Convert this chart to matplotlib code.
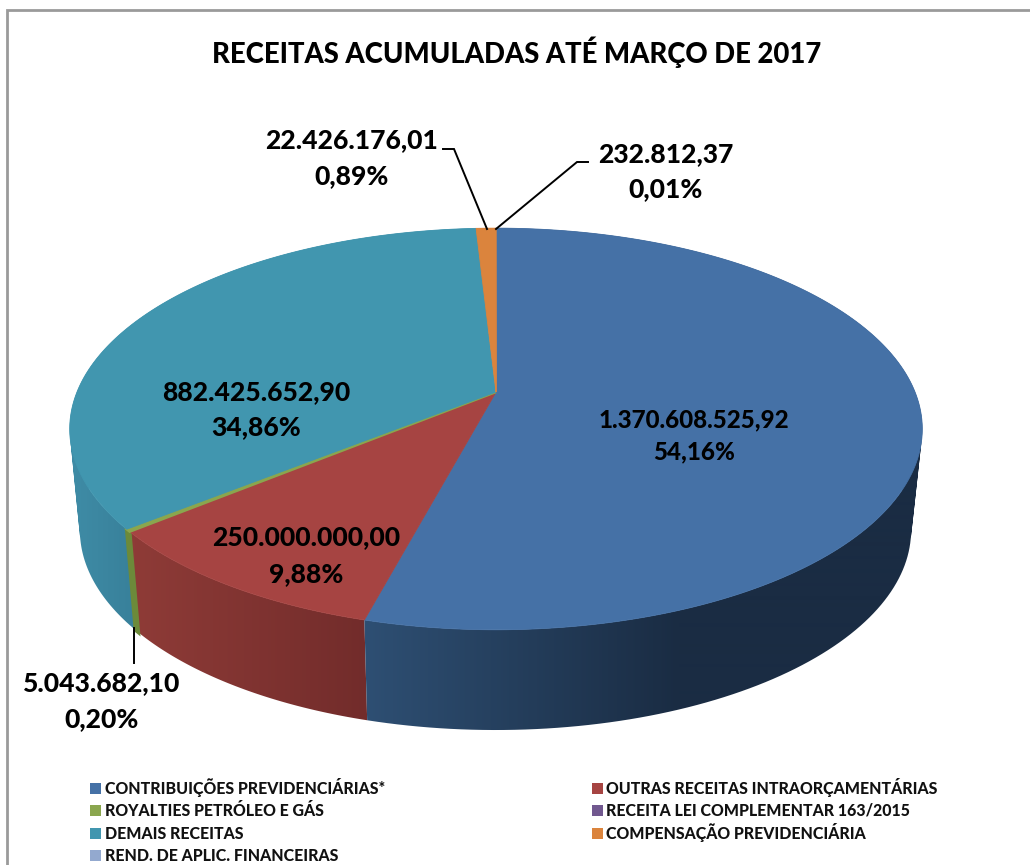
import numpy as np
import matplotlib
matplotlib.use("Agg")
import matplotlib.pyplot as plt
from matplotlib.patches import Polygon, Rectangle
from matplotlib.path import Path
from matplotlib.colors import LinearSegmentedColormap

title = "RECEITAS ACUMULADAS ATÉ MARÇO DE 2017"
categories = ["CONTRIBUIÇÕES PREVIDENCIÁRIAS*", "OUTRAS RECEITAS INTRAORÇAMENTÁRIAS",
              "ROYALTIES PETRÓLEO E GÁS", "RECEITA LEI COMPLEMENTAR 163/2015",
              "DEMAIS RECEITAS", "COMPENSAÇÃO PREVIDENCIÁRIA", "REND. DE APLIC. FINANCEIRAS"]
values = [1370608525.92, 250000000.00, 5043682.10, 0.0, 882425652.90, 22426176.01, 232812.37]
value_labels = ["1.370.608.525,92", "250.000.000,00", "5.043.682,10", None,
                "882.425.652,90", "22.426.176,01", "232.812,37"]
pct_labels = ["54,16%", "9,88%", "0,20%", None, "34,86%", "0,89%", "0,01%"]
colors = ["#4571A6", "#A64442", "#8AA64E", "#71588F", "#4196AF", "#DB843D", "#93A9CF"]
# the last, almost empty slice is drawn in orange in the reference
face_colors = ["#4571A6", "#A64442", "#8AA64E", "#71588F", "#4196AF", "#DB843D", "#DB843D"]

# (left, right) colour of each slice's side wall with the x range of the shading
side_shades = {0: ("#2E4F73", "#1A2C43", 365, 680), 1: ("#8E3B37", "#722C2B", 135, 368),
               2: ("#6C8A3A", "#5F7A33", 125, 136), 4: ("#3F8CA6", "#38809A", 70, 135),
               5: ("#B06A30", "#B06A30", 470, 500), 6: ("#B06A30", "#B06A30", 470, 500)}

FIG_W, FIG_H = 1030, 865
K = 0.184
TOP = dict(cx=496.0, cy=392.0, a=419.0, b=194.0)
BOT = dict(cx=495.5, cy=493.5, a=408.5, b=193.0)
FONT = "Lato"
HEAVY = 900


def project(theta, g):
    s = 1.0 / (1.0 + K * np.cos(theta))
    return g["cx"] + g["a"] * np.sin(theta) * s, g["cy"] - g["b"] * np.cos(theta) * s


def wall_path(xt, yt, xb, yb):
    """Union of the quads between the two rims, every quad turned the same way."""
    verts, codes = [], []
    for j in range(len(xt) - 1):
        q = [(xt[j], yt[j]), (xt[j + 1], yt[j + 1]), (xb[j + 1], yb[j + 1]), (xb[j], yb[j])]
        area = sum(q[m][0] * q[(m + 1) % 4][1] - q[(m + 1) % 4][0] * q[m][1] for m in range(4))
        if area < 0:
            q = q[::-1]
        verts += q + [q[0]]
        codes += [Path.MOVETO, Path.LINETO, Path.LINETO, Path.LINETO, Path.CLOSEPOLY]
    return Path(verts, codes)


fig = plt.figure(figsize=(FIG_W / 100, FIG_H / 100), dpi=100, facecolor="white")
ax = fig.add_axes([0, 0, 1, 1])
plt.rcParams["font.family"] = [FONT, "DejaVu Sans"]

vals = np.array(values)
edges = np.concatenate([[0], np.cumsum(vals)]) / vals.sum() * 2 * np.pi

# side walls, back to front
for i in [5, 6, 4, 2, 1, 0]:
    t = np.linspace(edges[i], edges[i + 1], 160)
    xt, yt = project(t, TOP)
    xb, yb = project(t, BOT)
    c0, c1, x0, x1 = side_shades[i]
    cmap = LinearSegmentedColormap.from_list("s", [c0, c1])
    grad = np.clip((np.arange(FIG_W) - x0) / max(x1 - x0, 1), 0, 1).reshape(1, -1)
    im = ax.imshow(grad, cmap=cmap, vmin=0, vmax=1, extent=(0, FIG_W, FIG_H, 0),
                   aspect="auto", zorder=1 + 0.01 * (6 - i), interpolation="bilinear")
    im.set_clip_path(wall_path(xt, yt, xb, yb), transform=ax.transData)
    if i == 2:  # the thin royalties sliver needs a stroke to stay visible, as in the reference
        poly = np.column_stack([np.r_[xt, xb[::-1]], np.r_[yt, yb[::-1]]])
        ax.add_patch(Polygon(poly, closed=True, facecolor=c0, edgecolor=c0, lw=2.6, zorder=1.2))

# top face
for i, v in enumerate(values):
    if v <= 0:
        continue
    t = np.linspace(edges[i], edges[i + 1], 400)
    xt, yt = project(t, TOP)
    poly = np.column_stack([np.r_[TOP["cx"], xt], np.r_[TOP["cy"], yt]])
    ax.add_patch(Polygon(poly, closed=True, facecolor=face_colors[i], edgecolor=face_colors[i],
                         linewidth=0.6 if i != 2 else 1.8, zorder=3))

# leader lines
leaders = [([443, 454, 487], [149, 149, 229]), ([588, 577, 496], [162, 162, 229]), ([134, 134], [628, 663])]
for lx, ly in leaders:
    ax.plot(lx, ly, color="black", lw=1.4, zorder=4, solid_joinstyle="miter")

# data labels
label_pos = {0: (694, 420, 452, 17.4), 1: (306, 537, 574, 19.1), 2: (102, 683, 719, 19.1),
             4: (256, 392, 427, 19.1), 5: (352, 140, 176, 19.1), 6: (666, 154, 189, 19.1)}
for i, (x, y1, y2, fs) in label_pos.items():
    ax.text(x, y1, value_labels[i], ha="center", va="center", fontsize=fs, fontweight=HEAVY,
            color="black", zorder=5)
    ax.text(x, y2, pct_labels[i], ha="center", va="center", fontsize=fs, fontweight=HEAVY,
            color="black", zorder=5)

ax.text(517, 52, title, ha="center", va="center", fontsize=19.85, fontweight=HEAVY, color="black", zorder=5)

# chart border (top and left only are visible in the crop)
ax.plot([7, 7, FIG_W], [FIG_H, 10, 10], color="#9A9A9A", lw=2, zorder=0, solid_joinstyle="miter")

# legend, rows read left to right
legend_cols = [(90, 105), (592, 606)]
legend_baselines = [794, 816, 839, 861]
for i, name in enumerate(categories):
    swatch_x, text_x = legend_cols[i % 2]
    base = legend_baselines[i // 2]
    ax.add_patch(Rectangle((swatch_x, base - 11), 11, 11, facecolor=colors[i], edgecolor="none", zorder=5))
    ax.text(text_x, base, name, ha="left", va="baseline", fontsize=11.4, fontweight=HEAVY,
            color="#111111", zorder=5)

ax.set_xlim(0, FIG_W)
ax.set_ylim(FIG_H, 0)
ax.axis("off")

fig.savefig("out.png", dpi=100, facecolor="white")
